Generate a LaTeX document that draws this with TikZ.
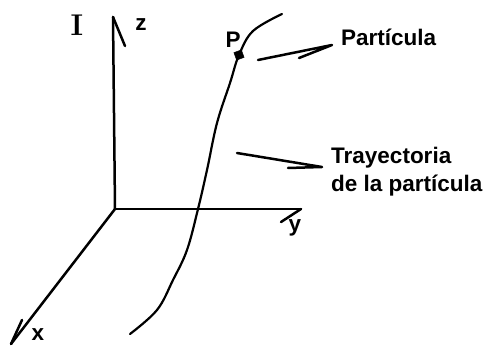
\documentclass[tikz,border=0pt]{standalone}
\usepackage{fontspec}
\setsansfont{Liberation Sans}
\usetikzlibrary{arrows.meta,positioning}

\tikzset{
  axis/.style={line width=2.5pt, line cap=round, line join=round},
  lbl/.style={font=\sffamily\bfseries\fontsize{22.5}{28}\selectfont, inner sep=0pt},
  traj/.style={line width=2.2pt, line cap=round},
  dot/.style={draw, fill, rectangle, minimum size=8pt, inner sep=0pt, rotate=20}
}

\begin{document}
\begin{tikzpicture}[x=1pt, y=-1pt]
    \useasboundingbox (0,0) rectangle (489,347);

    % Axes
    \coordinate (O) at (115,209);
    \coordinate (Z) at (113,17);
    \coordinate (Y) at (301,209);
    \coordinate (X) at (11,344);
    \draw[axis] (O) -- (Z);
    \draw[axis] (O) -- (Y);
    \draw[axis] (O) -- (X);
    \draw[axis] (Z) -- ++(12,29);
    \draw[axis] (Y) -- ++(-20,13);
    \draw[axis] (X) -- ++(11,-24);

    % Axis labels
    \node[lbl] (zlab) at (141,25) {z};
    \node[lbl] (ylab) at (295,228) {y};
    \node[lbl] (xlab) at (38,335) {x};
    \node[font=\bfseries\fontsize{30}{30}\selectfont, inner sep=0pt] (frame) at (77,25) {I};

    % Trajectory and particle
    \node[dot] (P) at (239,55) {};
    \draw[traj] plot[smooth, tension=0.6] coordinates
      {(130,334) (157,310) (173,280) (187,250) (198,209) (207,170) (217,123) (230,83) (239,55) (253,31) (282,14)};
    \node[lbl, anchor=south] (plab) at (233,48) {P};

    % Labels with pointers
    \node[lbl, anchor=west] (part) at (341,37) {Partícula};
    \node[lbl, anchor=west, align=left] (tray) at (331,172) {Trayectoria\\de la partícula};
    \coordinate (part-s) at (258,60);
    \coordinate (part-e) at (332,45);
    \coordinate (tray-s) at (237,153);
    \coordinate (tray-e) at (322,167);
    \draw[axis] (part-s) -- (part-e) -- ++(-33,13);
    \draw[axis] (tray-s) -- (tray-e) -- ++(-34,1);
\end{tikzpicture}
\end{document}
